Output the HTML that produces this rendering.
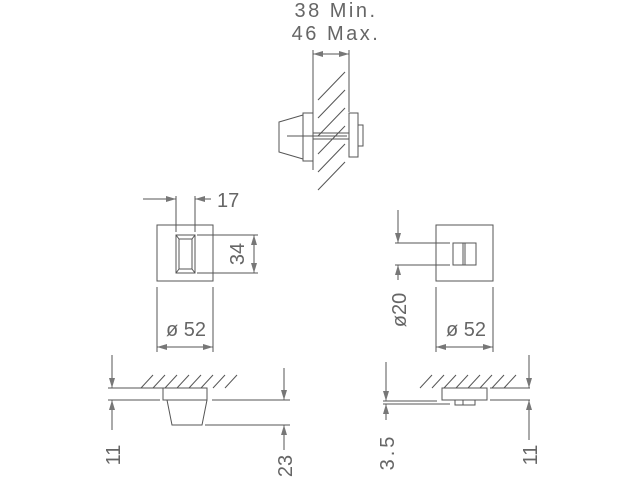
<!DOCTYPE html>
<html><head><style>body{margin:0;background:#fff}svg{display:block}text{font-family:"Liberation Sans",sans-serif;fill:#666;font-size:20px}</style></head>
<body>
<svg width="640" height="480" viewBox="0 0 640 480" stroke="#555" stroke-width="1" fill="none">
<defs><marker id="a" markerWidth="10" markerHeight="6" refX="10" refY="3" orient="auto-start-reverse" markerUnits="userSpaceOnUse"><path d="M0,0 L10,3 L0,6 Z" fill="#777" stroke="none"/></marker></defs>
<text x="336" y="17" text-anchor="middle" stroke="none" letter-spacing="2.5">38 Min.</text>
<text x="336" y="40" text-anchor="middle" stroke="none" letter-spacing="2.5">46 Max.</text>
<line x1="313" y1="50" x2="313" y2="170"/><line x1="349" y1="50" x2="349" y2="112"/>
<line x1="313" y1="54" x2="349" y2="54" marker-start="url(#a)" marker-end="url(#a)"/>
<g>
<line x1="318" y1="100" x2="345" y2="72"/><line x1="318" y1="118" x2="345" y2="90"/><line x1="318" y1="136" x2="345" y2="108"/>
<line x1="318" y1="154" x2="345" y2="126"/><line x1="318" y1="172" x2="345" y2="144"/><line x1="318" y1="190" x2="345" y2="162"/>
</g>
<rect x="303" y="113" width="10" height="48"/>
<path d="M303,115 L279,122 L279,152 L303,159"/>
<line x1="313" y1="133" x2="349" y2="133"/><line x1="313" y1="139" x2="349" y2="139"/>
<line x1="287" y1="136" x2="347" y2="136"/>
<rect x="349" y="113" width="9" height="44"/>
<rect x="358" y="125" width="5" height="21"/>
<rect x="157" y="225" width="56" height="56"/>
<rect x="176" y="235" width="19" height="38"/>
<rect x="179" y="239" width="13" height="30"/>
<path d="M176,235 L179,239 M195,235 L192,239 M176,273 L179,269 M195,273 L192,269"/>
<line x1="176" y1="196" x2="176" y2="232"/><line x1="195" y1="196" x2="195" y2="232"/>
<line x1="143" y1="199" x2="176" y2="199" marker-end="url(#a)"/><line x1="211" y1="199" x2="195" y2="199" marker-end="url(#a)"/>
<text x="217" y="207" stroke="none">17</text>
<line x1="197" y1="235" x2="258" y2="235"/><line x1="197" y1="273" x2="258" y2="273"/>
<line x1="254" y1="235" x2="254" y2="273" marker-start="url(#a)" marker-end="url(#a)"/>
<text transform="translate(244,254) rotate(-90)" text-anchor="middle" stroke="none">34</text>
<line x1="157" y1="287" x2="157" y2="352"/><line x1="213" y1="287" x2="213" y2="352"/>
<line x1="157" y1="347" x2="213" y2="347" marker-start="url(#a)" marker-end="url(#a)"/>
<text x="186" y="336" text-anchor="middle" stroke="none">ø 52</text>
<rect x="436" y="225" width="57" height="56"/>
<rect x="453" y="243" width="23" height="22"/>
<line x1="463" y1="243" x2="463" y2="265"/><line x1="465" y1="243" x2="465" y2="265"/>
<line x1="395" y1="243" x2="450" y2="243"/><line x1="395" y1="265" x2="450" y2="265"/>
<line x1="398" y1="210" x2="398" y2="243" marker-end="url(#a)"/><line x1="398" y1="280" x2="398" y2="265" marker-end="url(#a)"/>
<text transform="translate(406,310) rotate(-90)" text-anchor="middle" stroke="none">ø20</text>
<line x1="436" y1="287" x2="436" y2="352"/><line x1="493" y1="287" x2="493" y2="352"/>
<line x1="436" y1="347" x2="493" y2="347" marker-start="url(#a)" marker-end="url(#a)"/>
<text x="466" y="336" text-anchor="middle" stroke="none">ø 52</text>
<line x1="108" y1="388" x2="163" y2="388"/>
<g><line x1="141" y1="388" x2="153" y2="375"/><line x1="153" y1="388" x2="165" y2="375"/><line x1="165" y1="388" x2="177" y2="375"/><line x1="177" y1="388" x2="189" y2="375"/><line x1="189" y1="388" x2="201" y2="375"/><line x1="201" y1="388" x2="213" y2="375"/><line x1="213" y1="388" x2="225" y2="375"/><line x1="225" y1="388" x2="237" y2="375"/></g>
<rect x="163" y="388" width="44" height="12"/>
<line x1="108" y1="400" x2="160" y2="400"/><line x1="212" y1="400" x2="290" y2="400"/>
<path d="M167,400 L172,425 L202,425 L207,400"/>
<line x1="205" y1="425" x2="290" y2="425"/>
<line x1="112" y1="355" x2="112" y2="388" marker-end="url(#a)"/><line x1="112" y1="430" x2="112" y2="400" marker-end="url(#a)"/>
<text transform="translate(120,455) rotate(-90)" text-anchor="middle" stroke="none">11</text>
<line x1="284" y1="368" x2="284" y2="400" marker-end="url(#a)"/><line x1="284" y1="450" x2="284" y2="425" marker-end="url(#a)"/>
<text transform="translate(292,466) rotate(-90)" text-anchor="middle" stroke="none">23</text>
<line x1="490" y1="388" x2="530" y2="388"/>
<g><line x1="420" y1="388" x2="432" y2="375"/><line x1="432" y1="388" x2="444" y2="375"/><line x1="444" y1="388" x2="456" y2="375"/><line x1="456" y1="388" x2="468" y2="375"/><line x1="468" y1="388" x2="480" y2="375"/><line x1="480" y1="388" x2="492" y2="375"/><line x1="492" y1="388" x2="504" y2="375"/><line x1="504" y1="388" x2="516" y2="375"/></g>
<rect x="442" y="388" width="45" height="12"/>
<rect x="455" y="400" width="20" height="5"/><line x1="463" y1="400" x2="463" y2="405"/>
<line x1="383" y1="401" x2="437" y2="401"/><line x1="383" y1="404" x2="450" y2="404"/>
<line x1="490" y1="400" x2="530" y2="400"/>
<line x1="386" y1="362" x2="386" y2="401" marker-end="url(#a)"/><line x1="386" y1="420" x2="386" y2="404" marker-end="url(#a)"/>
<text transform="translate(394,452) rotate(-90)" text-anchor="middle" stroke="none" letter-spacing="3">3.5</text>
<line x1="529" y1="355" x2="529" y2="388" marker-end="url(#a)"/><line x1="529" y1="440" x2="529" y2="400" marker-end="url(#a)"/>
<text transform="translate(537,455) rotate(-90)" text-anchor="middle" stroke="none">11</text>
</svg>
</body></html>
